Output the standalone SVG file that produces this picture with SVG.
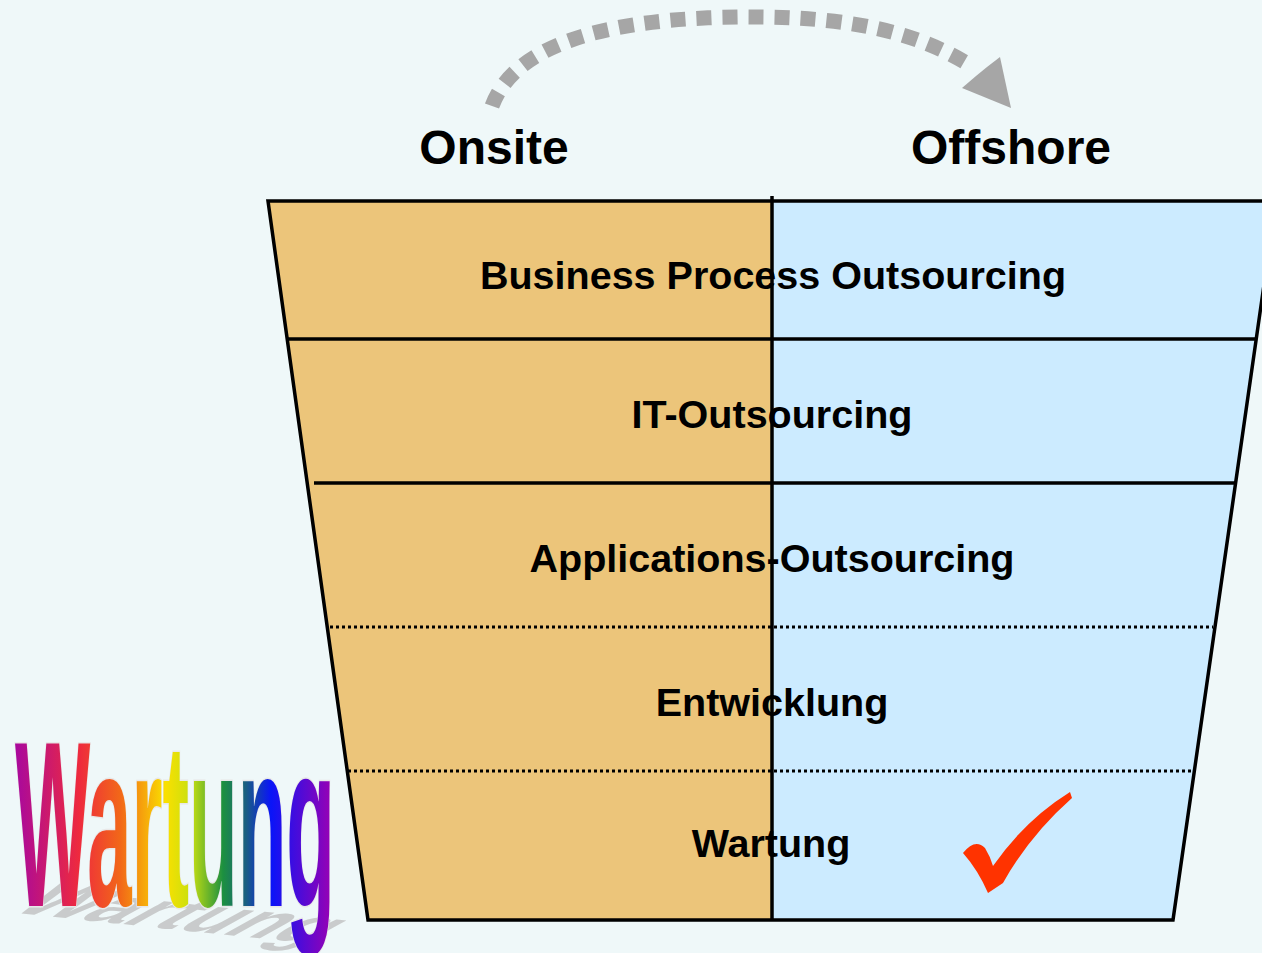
<svg xmlns="http://www.w3.org/2000/svg" width="1262" height="953" viewBox="0 0 1262 953">
<defs>
<style>
.lbl{font-family:"Liberation Sans",Arial,sans-serif;font-weight:bold;font-size:39.5px;fill:#000;text-anchor:middle}
.hd{font-family:"Liberation Sans",Arial,sans-serif;font-weight:bold;font-size:48px;fill:#000;text-anchor:middle}
.solid{stroke:#000;stroke-width:3.5;fill:none}
.dot{stroke:#000;stroke-width:3;fill:none;stroke-dasharray:3 3}
</style>
<linearGradient id="rb" x1="15" y1="0" x2="335" y2="0" gradientUnits="userSpaceOnUse">
<stop offset="0" stop-color="#A8089E"/>
<stop offset="0.2" stop-color="#EE2A3E"/>
<stop offset="0.33" stop-color="#F26818"/>
<stop offset="0.47" stop-color="#FAE000"/>
<stop offset="0.55" stop-color="#C8E010"/>
<stop offset="0.65" stop-color="#1C9040"/>
<stop offset="0.72" stop-color="#1A6080"/>
<stop offset="0.8" stop-color="#0A14F8"/>
<stop offset="1" stop-color="#A000B0"/>
</linearGradient>
</defs>
<rect width="1262" height="953" fill="#EFF8F9"/>
<g id="arc-arrow">
<path d="M492,106 C520,30 650,16 762,17 C860,18 920,35 968,64" fill="none" stroke="#A6A6A6" stroke-width="15" stroke-dasharray="15 11"/>
<polygon points="1011,108 1000,57 987,67 976,76 962,88" fill="#A6A6A6"/>
</g>
<g id="headers">
<text class="hd" x="494" y="164">Onsite</text>
<text class="hd" x="1011" y="164">Offshore</text>
</g>
<g id="funnel">
<polygon points="268,201 772,201 772,920 368,920" fill="#ECC57A"/>
<polygon points="772,201 1276,201 1173,920 772,920" fill="#CCEBFF"/>
<polygon points="268,201 1276,201 1173,920 368,920" class="solid"/>
</g>
<g id="connectors">
<line x1="287" y1="339" x2="1256" y2="339" class="solid"/>
<line x1="314" y1="483" x2="1235" y2="483" class="solid"/>
<line x1="330" y1="627" x2="1213" y2="627" class="dot"/>
<line x1="348" y1="771" x2="1193" y2="771" class="dot"/>
<line x1="772" y1="196" x2="772" y2="920" class="solid"/>
</g>
<g id="bpo"><text class="lbl" x="773" y="289">Business Process Outsourcing</text></g>
<g id="ito"><text class="lbl" x="772" y="428">IT-Outsourcing</text></g>
<g id="apo"><text class="lbl" x="772" y="572">Applications-Outsourcing</text></g>
<g id="entw"><text class="lbl" x="772" y="716">Entwicklung</text></g>
<g id="wart"><text class="lbl" x="771" y="857">Wartung</text></g>
<g id="check">
<path d="M963,853 Q975,838 985,848 Q990,856 993,866 Q1025,820 1070,792 L1072,798 Q1030,835 1003,883 L988,893 Q978,870 963,853 Z" fill="#FF3300"/>
</g>
<g id="wordart">
<text x="0" y="0" transform="translate(8,912) rotate(6) skewX(-55) scale(0.95,0.22)" font-family="Liberation Sans,Arial,sans-serif" font-weight="bold" font-size="232" textLength="320" lengthAdjust="spacingAndGlyphs" fill="#BDBDBD" opacity="0.75">Wartung</text>
<text x="15" y="906" font-family="Liberation Sans,Arial,sans-serif" font-weight="bold" font-size="236" textLength="320" lengthAdjust="spacingAndGlyphs" fill="url(#rb)" stroke="#E8E8E8" stroke-width="3" paint-order="stroke">Wartung</text>
</g>
</svg>
